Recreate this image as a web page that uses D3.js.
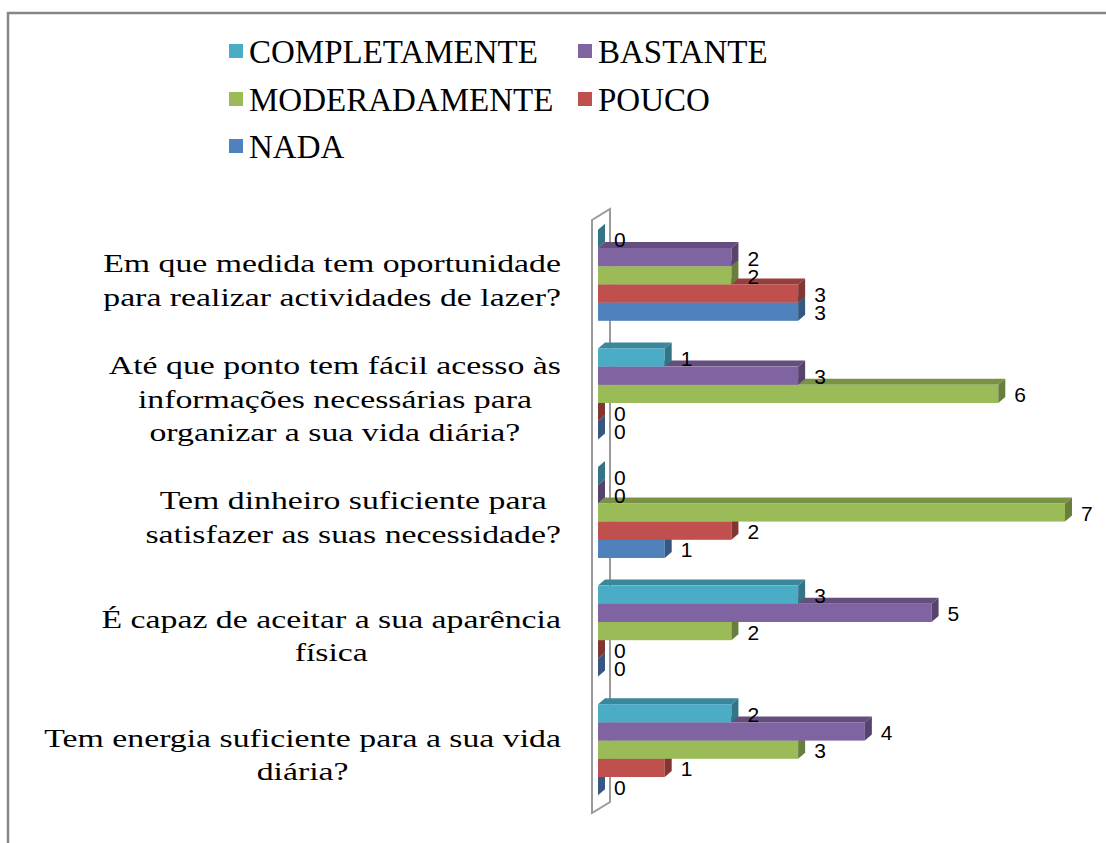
<!DOCTYPE html>
<html lang="pt">
<head>
<meta charset="UTF-8">
<title>Qualidade de vida</title>
<style>
  body { margin: 0; background: #fff; }
  svg { display: block; }
  .cat { font-family: "Liberation Serif", "Times New Roman", serif; font-size: 26px; fill: #000; }
  .leg { font-family: "Liberation Serif", "Times New Roman", serif; font-size: 33px; fill: #000; }
  .val { font-family: "Liberation Sans", Arial, sans-serif; font-size: 21px; fill: #000; }
</style>
</head>
<body>
<svg width="1106" height="843"></svg>
<script src="https://d3js.org/d3.v7.min.js"></script>
<script>
  // categories, top to bottom, already split in lines as in the picture
  const categories = [
    ["Em que medida tem oportunidade", "para realizar actividades de lazer?"],
    ["Até que ponto tem fácil acesso às", "informações necessárias para", "organizar a sua vida diária?"],
    ["Tem dinheiro suficiente para", "satisfazer as suas necessidade?"],
    ["É capaz de aceitar a sua aparência", "física"],
    ["Tem energia suficiente para a sua vida", "diária?"]
  ];
  const seriesNames = ["COMPLETAMENTE", "BASTANTE", "MODERADAMENTE", "POUCO", "NADA"];
  const seriesColors = ["#4BACC6", "#8064A2", "#9BBB59", "#C0504D", "#4F81BD"];
  const completamente = [0, 1, 0, 3, 2];
  const bastante      = [2, 3, 0, 5, 4];
  const moderadamente = [2, 6, 7, 2, 3];
  const pouco         = [3, 0, 2, 0, 1];
  const nada          = [3, 0, 1, 0, 0];
  const seriesValues = [completamente, bastante, moderadamente, pouco, nada];

  const svg = d3.select("svg");

  // chart frame (right and bottom edges fall outside the picture)
  svg.append("rect")
    .attr("x", 8).attr("y", 13).attr("width", 1200).attr("height", 900)
    .attr("fill", "none").attr("stroke", "#868686").attr("stroke-width", 2.5);

  const x = d3.scaleLinear().domain([0, 7]).range([598, 1065]);
  const y0 = d3.scaleBand().domain(d3.range(categories.length)).range([216, 809]);
  const y1 = d3.scaleBand().domain(d3.range(seriesNames.length))
    .range([0, y0.bandwidth()]).paddingOuter(0.758);

  const dx = 7, dy = 6; // bar depth

  // thin 3D wall at zero
  const wl = x(0) - 6, wr = x(0) + 12, wt = y0.range()[0] + 4, wb = y0.range()[1] + 4;
  svg.append("path")
    .attr("d", `M${wl},${wb} L${wl},${wt} L${wr},${wt - 11} L${wr},${wb - 11} Z`)
    .attr("fill", "none").attr("stroke", "#9a9a9a").attr("stroke-width", 2);

  const bars = [];
  categories.forEach((c, ci) => {
    // draw from the lowest bar upward so upper bars cover top faces
    for (let si = seriesNames.length - 1; si >= 0; si--) {
      bars.push({ ci, si, v: seriesValues[si][ci] });
    }
  });

  const g = svg.append("g");
  bars.forEach(b => {
    const col = d3.color(seriesColors[b.si]);
    const top = y0(b.ci) + y1(b.si), h = y1.bandwidth();
    const x0 = x(0), x1 = x(b.v);
    const bg = g.append("g");
    // top face
    bg.append("path")
      .attr("d", `M${x0},${top} L${x0 + dx},${top - dy} L${x1 + dx},${top - dy} L${x1},${top} Z`)
      .attr("fill", col.darker(0.7));
    // front face
    bg.append("rect")
      .attr("x", x0).attr("y", top).attr("width", x1 - x0).attr("height", h)
      .attr("fill", col);
    // end face
    bg.append("path")
      .attr("d", `M${x1},${top} L${x1 + dx},${top - dy} L${x1 + dx},${top + h - dy} L${x1},${top + h} Z`)
      .attr("fill", col.darker(1.1));
  });

  // value labels
  svg.append("g").selectAll("text")
    .data(bars)
    .join("text")
    .attr("class", "val")
    .attr("x", d => x(d.v) + 16)
    .attr("y", d => y0(d.ci) + y1(d.si) + y1.bandwidth() / 2 + 1)
    .attr("dominant-baseline", "central")
    .text(d => d.v);

  // category labels: lines centred within a block right-aligned at 561,
  // the text in the original is stretched horizontally
  const labelRight = 561, stretch = 1.3, lineH = 33.5;
  const cg = svg.append("g")
    .attr("transform", `translate(${labelRight},0) scale(${stretch},1)`);
  categories.forEach((lines, ci) => {
    const t = cg.append("text").attr("class", "cat").attr("text-anchor", "middle");
    const spans = lines.map(l => t.append("tspan").text(l));
    const maxW = d3.max(spans, s => s.node().getComputedTextLength());
    const cy = y0(ci) + y0.bandwidth() / 2 + 5;
    spans.forEach((s, li) => {
      s.attr("x", -maxW / 2)
        .attr("y", cy + (li - (lines.length - 1) / 2) * lineH)
        .attr("dominant-baseline", "central");
    });
  });

  // legend
  const legX = [229, 578], legY = [51, 99, 146];
  const leg = svg.append("g").selectAll("g")
    .data(seriesNames)
    .join("g")
    .attr("transform", (d, i) => `translate(${legX[i % 2]},${legY[Math.floor(i / 2)]})`);
  leg.append("rect")
    .attr("x", 0).attr("y", -7).attr("width", 14).attr("height", 14)
    .attr("fill", (d, i) => seriesColors[i]);
  leg.append("text")
    .attr("class", "leg")
    .attr("x", 20).attr("y", 1)
    .attr("dominant-baseline", "central")
    .text(d => d);
</script>
</body>
</html>
